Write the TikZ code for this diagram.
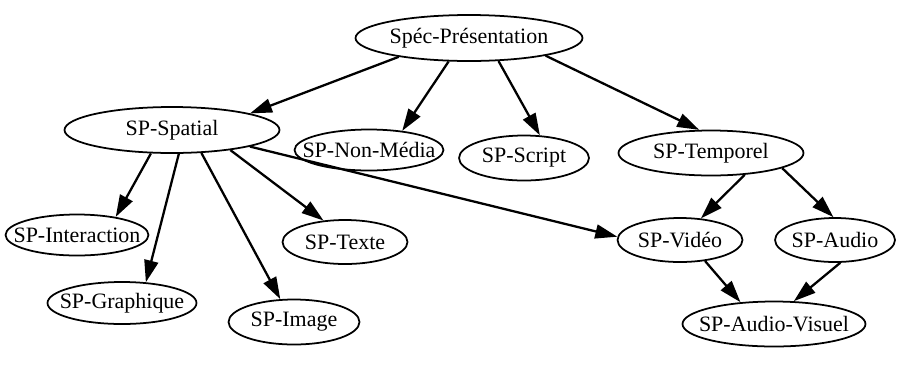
\documentclass[tikz,border=0pt]{standalone}
\usepackage{fontspec}
\setmainfont{Liberation Serif}
\usetikzlibrary{shapes.geometric, arrows.meta}
\newcommand{\etiq}[1]{\makebox[0pt][c]{#1}}
\tikzset{
  classe/.style={ellipse, draw=black, line width=1pt, inner sep=0pt,
    text centered, font=\fontsize{12.5}{14}\selectfont},
  arrow/.style={-{Triangle[length=0.44cm,width=0.28cm]}, line width=1.3pt,
    color=black}
}

\begin{document}
\begin{tikzpicture}[x=0.02cm, y=-0.02cm]
\useasboundingbox (0,0) rectangle (911,369);
\node (pres)   [classe, minimum width=4.54cm, minimum height=0.92cm] at (469,38)  {\etiq{Spéc-Présentation}};
\node (spat)   [classe, minimum width=4.30cm, minimum height=0.92cm] at (172,130) {\etiq{SP-Spatial}};
\node (nonmed) [classe, minimum width=2.98cm, minimum height=0.82cm] at (369,150) {\etiq{SP-Non-Média}};
\node (script) [classe, minimum width=2.60cm, minimum height=0.90cm] at (524,158) {\etiq{SP-Script}};
\node (temp)   [classe, minimum width=3.70cm, minimum height=0.90cm] at (711,153) {\etiq{SP-Temporel}};
\node (inter)  [classe, minimum width=2.86cm, minimum height=0.82cm] at (77,235)  {\etiq{SP-Interaction}};
\node (texte)  [classe, minimum width=2.50cm, minimum height=0.88cm] at (345,242) {\etiq{SP-Texte}};
\node (video)  [classe, minimum width=2.50cm, minimum height=0.88cm] at (680,240) {\etiq{SP-Vidéo}};
\node (audio)  [classe, minimum width=2.40cm, minimum height=0.88cm] at (835,240) {\etiq{SP-Audio}};
\node (graph)  [classe, minimum width=2.98cm, minimum height=0.84cm] at (122,303) {\etiq{SP-Graphique}};
\node (image)  [classe, minimum width=2.62cm, minimum height=0.90cm] at (294,322) {\etiq{SP-Image}};
\node (av)     [classe, minimum width=3.66cm, minimum height=0.90cm] at (774,324) {\etiq{SP-Audio-Visuel}};

\draw[arrow] (pres.195)  -- (spat.12);
\draw[arrow] (pres.229)  -- (nonmed.30);
\draw[arrow] (pres.-38)  -- (script.55);
\draw[arrow] (pres.-13)  -- (temp.117);
\draw[arrow] (spat.228)  -- (inter.25);
\draw[arrow] (spat.286)  -- (graph.41);
\draw[arrow] (spat.-38)  -- (image.121);
\draw[arrow] (spat.-19)  -- (texte.135);
\draw[arrow] (spat.-12)  -- (video.177);
\draw[arrow] (temp.-33)  -- (video.46);
\draw[arrow] (temp.-12)  -- (audio.94);
\draw[arrow] (video.-40) -- (av.147);
\draw[arrow] (audio.-77) -- (av.49);
\end{tikzpicture}
\end{document}
